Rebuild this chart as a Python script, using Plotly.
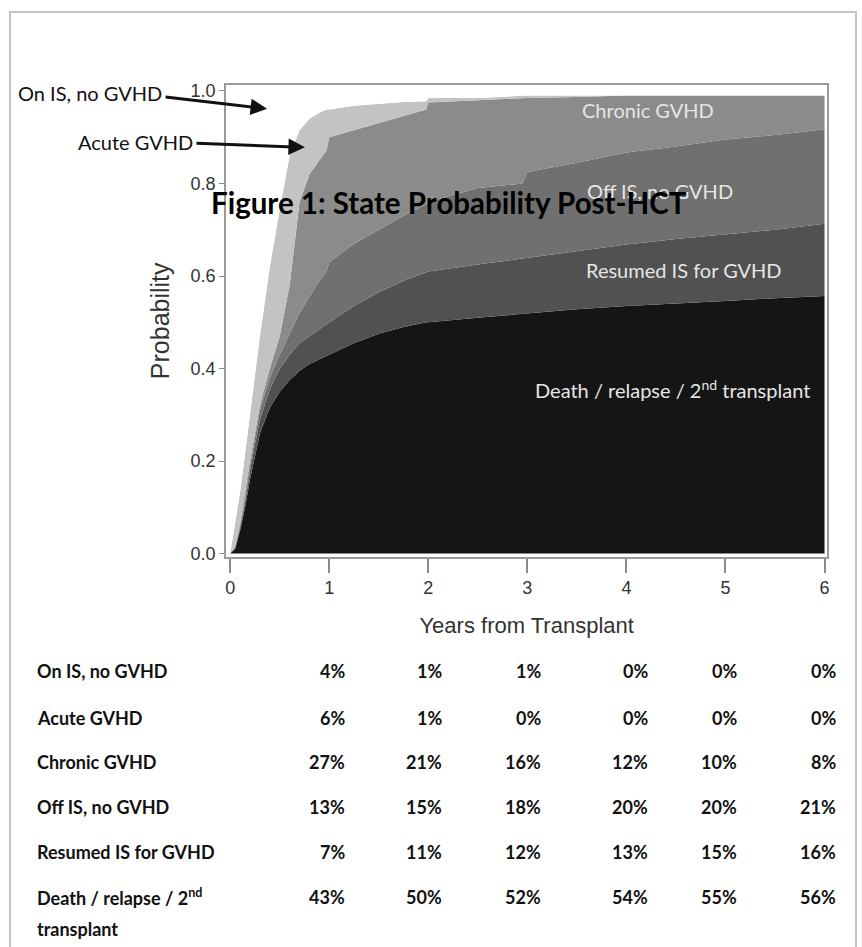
import plotly.graph_objects as go

# Multistate probabilities after transplant (state occupancy over time)
years = [0, 0.05, 0.1, 0.15, 0.2, 0.3, 0.4, 0.5, 0.6, 0.7, 0.8, 0.9, 0.97, 1.0,
         1.25, 1.5, 1.75, 1.98, 2.0, 2.5, 2.95, 3.0, 3.5, 4.0, 4.5, 5.0, 5.5, 6.0]

death = [0, .01, .05, .10, .16, .26, .315, .35, .375, .395, .41, .42, .428, .43,
         .455, .475, .49, .50, .50, .51, .518, .52, .528, .535, .54, .546, .552, .557]
resumed_is = [0, .002, .005, .01, .02, .03, .04, .05, .055, .06, .06, .065, .067, .07,
              .08, .09, .10, .11, .11, .115, .12, .12, .127, .133, .14, .144, .148, .156]
off_is = [0, .002, .005, .01, .01, .02, .025, .03, .045, .065, .085, .105, .115, .13,
          .135, .135, .14, .145, .15, .165, .162, .185, .19, .199, .20, .205, .205, .204]
chronic = [0, .002, .005, .01, .01, .01, .02, .04, .105, .24, .265, .26, .26, .27,
           .245, .23, .215, .205, .215, .19, .185, .16, .142, .123, .11, .095, .085, .073]
acute = [0, .049, .068, .085, .10, .15, .22, .275, .28, .155, .12, .103, .09, .06,
         .053, .042, .031, .018, .01, .005, .005, .005, .003, 0, 0, 0, 0, 0]
on_is = [1, .935, .867, .785, .70, .53, .38, .255, .14, .085, .06, .047, .04, .04,
         .032, .028, .024, .022, .015, .015, .01, .01, .01, .01, .01, .01, .01, .01]

# Summary table at yearly landmarks
table_years = [1, 2, 3, 4, 5, 6]
table_labels = ["On IS, no GVHD", "Acute GVHD", "Chronic GVHD", "Off IS, no GVHD",
                "Resumed IS for GVHD", "Death / relapse / 2<sup>nd</sup>"]
pct_on_is = [4, 1, 1, 0, 0, 0]
pct_acute = [6, 1, 0, 0, 0, 0]
pct_chronic = [27, 21, 16, 12, 10, 8]
pct_off_is = [13, 15, 18, 20, 20, 21]
pct_resumed = [7, 11, 12, 13, 15, 16]
pct_death = [43, 50, 52, 54, 55, 56]

W, H = 862, 947
HUMANIST = "Lato, Open Sans, sans-serif"
ARIAL = "Liberation Sans, Arial, sans-serif"


def px(x):
    return x / W


def py(y):
    return 1 - y / H


fig = go.Figure()

layers = [
    ("Death / relapse / 2nd transplant", death, "#151515"),
    ("Resumed IS for GVHD", resumed_is, "#515151"),
    ("Off IS, no GVHD", off_is, "#707070"),
    ("Chronic GVHD", chronic, "#8b8b8b"),
    ("Acute GVHD", acute, "#c3c3c3"),
    ("On IS, no GVHD", on_is, "#ffffff"),
]
for name, vals, col in layers:
    fig.add_trace(go.Scatter(
        x=years, y=vals, name=name, stackgroup="one", mode="lines",
        line=dict(width=0, color=col), fillcolor=col, hoverinfo="x+y+name",
    ))

ann = []

# State labels inside the plot
inner = [
    ("Chronic GVHD", 649, 107),
    ("Off IS, no GVHD", 661, 189),
    ("Resumed IS for GVHD", 685, 269),
    ("Death / relapse / 2<sup>nd</sup> transplant", 674, 390),
]
for txt, x, y in inner:
    ann.append(dict(text=txt, x=px(x), y=py(y), xref="paper", yref="paper",
                    showarrow=False, xanchor="center", yanchor="middle",
                    font=dict(family=HUMANIST, size=20, color="#e6e6e6")))

# Callouts for the thin early states
ann.append(dict(text="On IS, no GVHD", x=px(15), y=py(90), xref="paper", yref="paper",
                showarrow=False, xanchor="left", yanchor="middle",
                font=dict(family=HUMANIST, size=20, color="#111111")))
ann.append(dict(text="Acute GVHD", x=px(75), y=py(140), xref="paper", yref="paper",
                showarrow=False, xanchor="left", yanchor="middle",
                font=dict(family=HUMANIST, size=20, color="#111111")))
for hx, hy, tx, ty in [(267, 106, 164, 94), (305, 145, 195, 141)]:
    ann.append(dict(text="", x=px(hx), y=py(hy), xref="paper", yref="paper",
                    ax=tx - hx, ay=ty - hy, axref="pixel", ayref="pixel",
                    showarrow=True, arrowhead=2, arrowsize=1.1, arrowwidth=3,
                    arrowcolor="#111111"))

# Title
ann.append(dict(text="<b>Figure 1: State Probability Post-HCT</b>", x=px(450), y=py(201),
                xref="paper", yref="paper", showarrow=False, xanchor="center",
                yanchor="middle", font=dict(family=HUMANIST, size=29.5, color="#000000")))

# Summary table
row_y = [675, 722, 767, 812, 858, 904]
col_right = [347, 445, 544, 651, 741, 840]
rows = [pct_on_is, pct_acute, pct_chronic, pct_off_is, pct_resumed, pct_death]
tfont = dict(family=HUMANIST, size=18, color="#111111")
for label, vals, y in zip(table_labels, rows, row_y):
    ann.append(dict(text="<b>%s</b>" % label, x=px(34), y=py(y), xref="paper",
                    yref="paper", showarrow=False, xanchor="left", yanchor="middle",
                    font=tfont))
    for v, xr in zip(vals, col_right):
        ann.append(dict(text="<b>%d%%</b>" % v, x=px(xr), y=py(y), xref="paper",
                        yref="paper", showarrow=False, xanchor="right",
                        yanchor="middle", font=tfont))
ann.append(dict(text="<b>transplant</b>", x=px(34), y=py(936), xref="paper", yref="paper",
                showarrow=False, xanchor="left", yanchor="middle", font=tfont))

# Plot geometry (pixels): frame 226..829 x 82..559; t=0 at 230, p=0 at 556
x_l, x_r, y_t, y_b = 226, 829, 82, 559
x0_px, x_per = 230, 99.4
y0_px, y_per = 556, 468

fig.update_layout(
    width=W, height=H, margin=dict(l=0, r=0, t=0, b=0),
    paper_bgcolor="white", plot_bgcolor="white", showlegend=False,
    annotations=ann,
    xaxis=dict(
        domain=[px(x_l), px(x_r)],
        range=[-(x0_px - x_l) / x_per, 6 + (x_r - (x0_px + 6 * x_per)) / x_per],
        tickvals=[0, 1, 2, 3, 4, 5, 6], ticks="outside", ticklen=14,
        tickwidth=2, tickcolor="#8a8a8a", showgrid=False, zeroline=False,
        showline=True, mirror=True, linecolor="#9a9a9a", linewidth=2,
        tickfont=dict(family=ARIAL, size=18, color="#333333"),
        title=dict(text="Years from Transplant", standoff=20,
                   font=dict(family=ARIAL, size=22, color="#333333")),
    ),
    yaxis=dict(
        domain=[py(y_b), py(y_t)],
        range=[-(y_b - y0_px) / y_per, 1 + (y0_px - y_per - y_t) / y_per],
        tickvals=[0, 0.2, 0.4, 0.6, 0.8, 1.0], tickformat=".1f", ticks="outside",
        ticklen=5, tickwidth=1, tickcolor="#8a8a8a", showgrid=False, zeroline=False,
        showline=True, mirror=True, linecolor="#9a9a9a", linewidth=2,
        tickfont=dict(family=ARIAL, size=18, color="#333333"),
        title=dict(text="Probability", standoff=14,
                   font=dict(family=ARIAL, size=25, color="#333333")),
    ),
    shapes=[dict(type="rect", xref="paper", yref="paper", x0=px(9), x1=px(858),
                 y0=py(990), y1=py(8), line=dict(color="#c4c4c4", width=2),
                 fillcolor="rgba(0,0,0,0)", layer="below")],
)

fig.write_html("out.html")
